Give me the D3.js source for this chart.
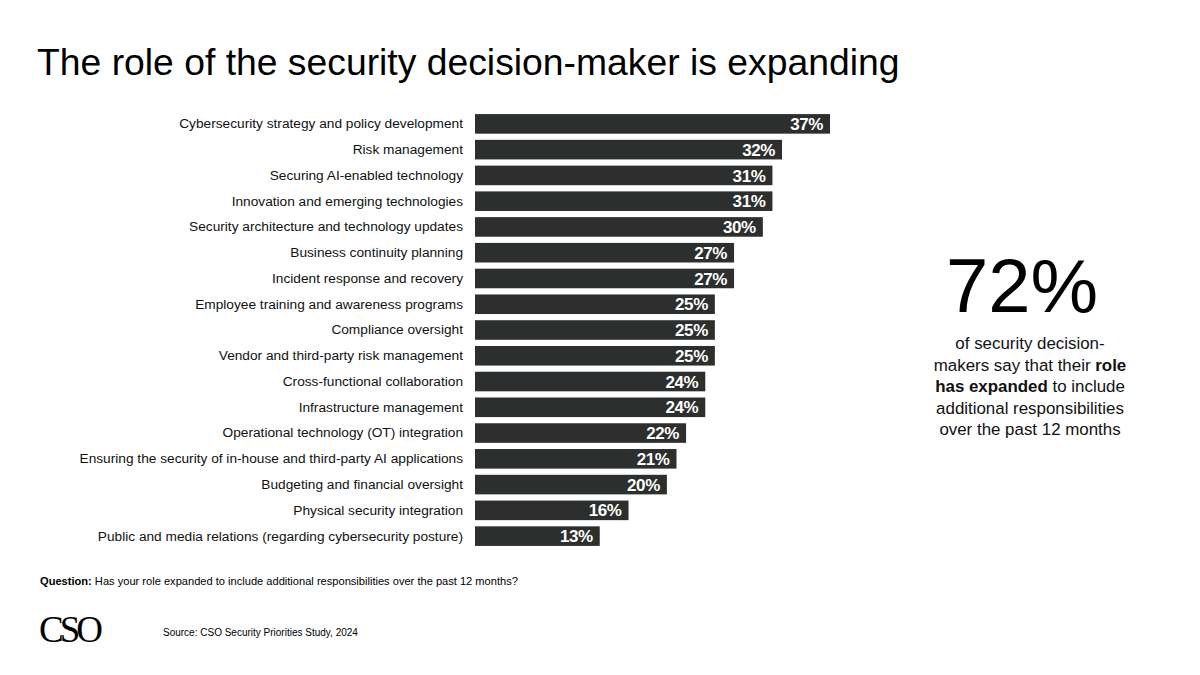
<!DOCTYPE html>
<html><head><meta charset="utf-8">
<script src="https://cdn.jsdelivr.net/npm/d3@7"></script>
<style>body{margin:0;background:#fff}svg{display:block}</style>
</head><body><svg id="c" width="1200" height="675" font-family="Liberation Sans, Arial, sans-serif"></svg>
<script>
const categories = [
 "Cybersecurity strategy and policy development",
 "Risk management",
 "Securing AI-enabled technology",
 "Innovation and emerging technologies",
 "Security architecture and technology updates",
 "Business continuity planning",
 "Incident response and recovery",
 "Employee training and awareness programs",
 "Compliance oversight",
 "Vendor and third-party risk management",
 "Cross-functional collaboration",
 "Infrastructure management",
 "Operational technology (OT) integration",
 "Ensuring the security of in-house and third-party AI applications",
 "Budgeting and financial oversight",
 "Physical security integration",
 "Public and media relations (regarding cybersecurity posture)"
];
const values = [37,32,31,31,30,27,27,25,25,25,24,24,22,21,20,16,13];
const bigStat = "72%";
const statLines = [
 [["of security decision-", false]],
 [["makers say that their ", false],["role", true]],
 [["has expanded", true],[" to include", false]],
 [["additional responsibilities", false]],
 [["over the past 12 months", false]]
];

const svg = d3.select("#c");
svg.append("text").attr("x",37).attr("y",75).attr("font-size",37.3).attr("fill","#000")
  .text("The role of the security decision-maker is expanding");

const x = d3.scaleLinear().domain([0,37]).range([475,830]);
const y = d3.scaleBand().domain(categories).range([111,549]).paddingInner(0.24).paddingOuter(0.12);

const g = svg.append("g");
g.selectAll("rect").data(values).join("rect")
  .attr("x", x(0)).attr("y",(d,i)=>y(categories[i]))
  .attr("width", d=>x(d)-x(0)).attr("height", y.bandwidth())
  .attr("fill","#2d2e2e");
g.selectAll("text.v").data(values).join("text").attr("class","v")
  .attr("x", d=>x(d)-7).attr("y",(d,i)=>y(categories[i])+y.bandwidth()/2)
  .attr("dy","0.36em").attr("text-anchor","end").attr("font-weight","bold")
  .attr("font-size",17).attr("letter-spacing",-0.4).attr("fill","#fff").text(d=>d+"%");

const yAxis = d3.axisLeft(y).tickSize(0).tickPadding(0);
const ax = svg.append("g").attr("transform",`translate(463,0)`).call(yAxis);
ax.attr("font-family",null).attr("font-size",null);
ax.select(".domain").remove();
ax.selectAll("text").attr("font-size",13.7).attr("fill","#111");

svg.append("text").attr("x",1022).attr("y",312).attr("text-anchor","middle")
  .attr("font-size",76).attr("fill","#000").text(bigStat);
const st = svg.append("text").attr("text-anchor","middle").attr("font-size",16.9).attr("fill","#111");
statLines.forEach((line,i)=>{
  line.forEach((seg,j)=>{
    const ts = st.append("tspan").text(seg[0]).attr("font-weight", seg[1]?"bold":"normal");
    if(j===0) ts.attr("x",1030).attr("y",349+i*21.5);
  });
});

const q = svg.append("text").attr("x",40).attr("y",585).attr("font-size",11.1).attr("fill","#000");
q.append("tspan").attr("font-weight","bold").text("Question:");
q.append("tspan").text(" Has your role expanded to include additional responsibilities over the past 12 months?");

svg.append("text").attr("x",39).attr("y",642).attr("font-family","Liberation Serif, Times New Roman, serif")
  .attr("font-size",37).attr("letter-spacing",-4).attr("fill","#000").text("CSO");
svg.append("text").attr("x",163).attr("y",636).attr("font-size",10).attr("fill","#000")
  .text("Source: CSO Security Priorities Study, 2024");
</script></body></html>
